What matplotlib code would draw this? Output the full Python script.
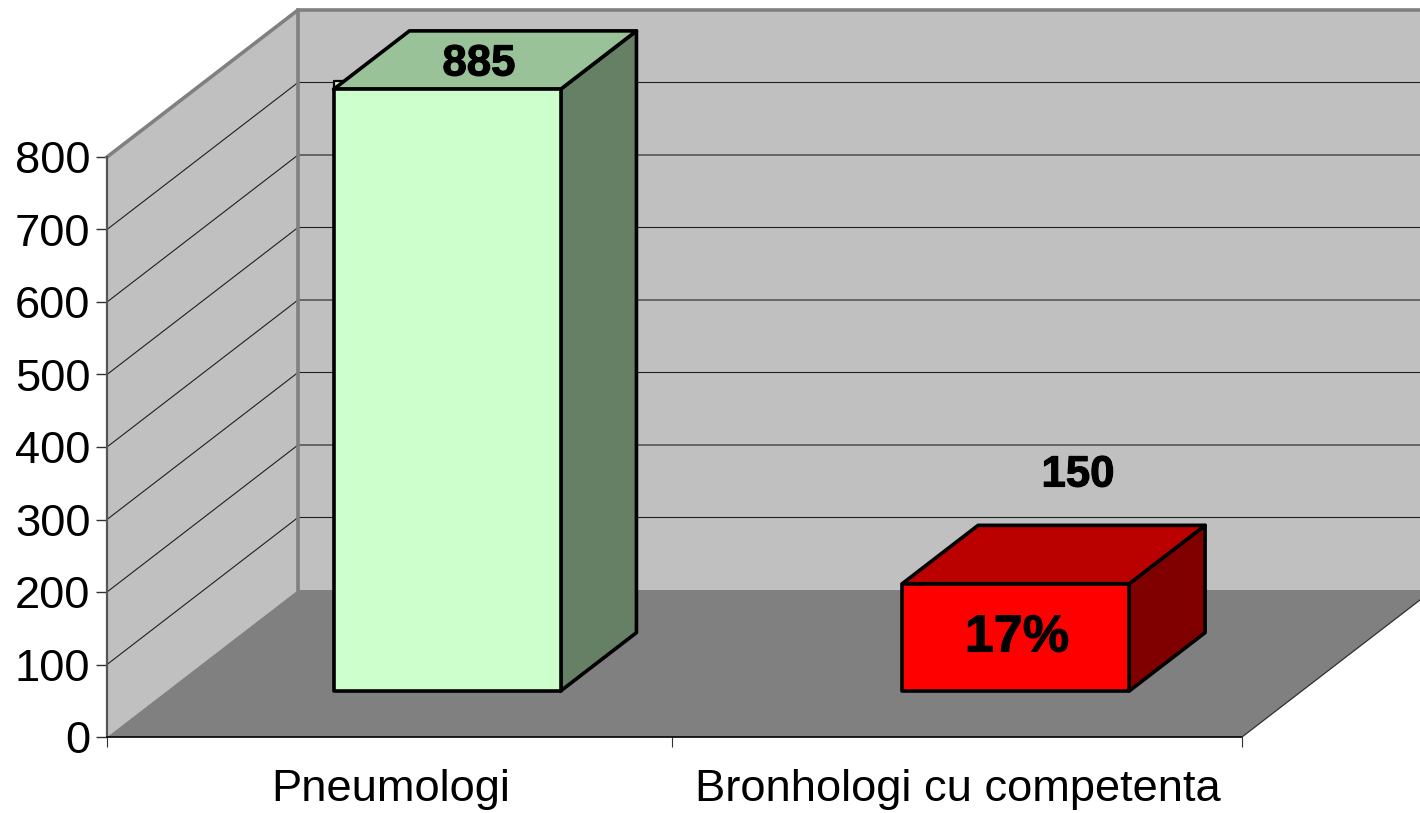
import matplotlib
matplotlib.use("Agg")
import matplotlib.pyplot as plt
import matplotlib.patheffects as pe
from matplotlib.patches import Polygon

plt.rcParams['font.family'] = ['Liberation Sans', 'DejaVu Sans']

# === Data ===
categories = ["Pneumologi", "Bronhologi cu competenta"]
bar_labels = ["885", "150"]
bar_heights = [830, 148]  # first bar is cut off by the chart, 885 does not fit
y_ticks = [0, 100, 200, 300, 400, 500, 600, 700, 800]

# === Layout (pixels of the 1420x813 picture) ===
W, H = 1420, 813
X0, Y0 = 107, 737
CAT_PX = 567.5
VAL_PX = 0.725
DX = 191 / CAT_PX    # full depth of the floor, in category units
DY = 147 / VAL_PX    # same, in value units
BAR_D0, BAR_D1 = 0.313, 0.71
BAR_W = 0.2
BAR_SHIFT = [-0.006, -0.004]

front_cols = ["#CCFFCC", "#FF0000"]
top_cols = ["#99C299", "#BB0000"]
side_cols = ["#668066", "#800000"]


def proj(x, v, d=0.0):
    return (x + d * DX, v + d * DY)


def from_px(px, py):
    return ((px - X0) / CAT_PX, (Y0 - py) / VAL_PX)


fig = plt.figure(figsize=(W / 100, H / 100), dpi=100, facecolor="white")
ax = fig.add_axes([X0 / W, (H - Y0) / H, (W - X0) / W, Y0 / H])
ax.set_xlim(0, (W - X0) / CAT_PX)
ax.set_ylim(0, Y0 / VAL_PX)
ax.patch.set_visible(False)
for s in ax.spines.values():
    s.set_visible(False)

n = len(categories)
top = y_ticks[-1]

# walls and floor
ax.add_patch(Polygon([proj(0, 0, 1), proj(n, 0, 1), proj(n, top, 1), proj(0, top, 1)],
                     fc="#C0C0C0", ec="none", zorder=1))
ax.add_patch(Polygon([proj(0, 0, 0), proj(0, 0, 1), proj(0, top, 1), proj(0, top, 0)],
                     fc="#C0C0C0", ec="none", zorder=1))
ax.add_patch(Polygon([proj(0, 0, 0), proj(n, 0, 0), proj(n, 0, 1), proj(0, 0, 1)],
                     fc="#808080", ec="none", zorder=2))

# gridlines
for v in y_ticks[1:-1]:
    a, b, c = proj(0, v, 0), proj(0, v, 1), proj(n, v, 1)
    ax.plot([a[0], b[0], c[0]], [a[1], b[1], c[1]], color="#202020", lw=0.8, zorder=1.5)

# wall edges
a, b, c = proj(0, top, 0), proj(0, top, 1), proj(n, top, 1)
ax.plot([a[0], b[0], c[0]], [a[1], b[1], c[1]], color="#808080", lw=2.6, zorder=1.6, clip_on=False)
a, b = proj(0, 0, 1), proj(0, top, 1)
ax.plot([a[0], b[0]], [a[1], b[1]], color="#808080", lw=2.6, zorder=1.6)
ax.plot([0, 0], [0, top], color="#555555", lw=1.6, zorder=3, clip_on=False)

# floor edges
ax.plot([0, n], [0, 0], color="black", lw=1.2, zorder=3, clip_on=False)
a, b = proj(n, 0, 0), proj(n, 0, 1)
ax.plot([a[0], b[0]], [a[1], b[1]], color="#303030", lw=0.9, zorder=3)

# bars
for i, h in enumerate(bar_heights):
    left = i + 0.5 - BAR_W + BAR_SHIFT[i]
    right = i + 0.5 + BAR_W + BAR_SHIFT[i]
    style = dict(ec="black", lw=2.6, joinstyle="round", zorder=5)
    ax.add_patch(Polygon([proj(right, 0, BAR_D0), proj(right, 0, BAR_D1),
                          proj(right, h, BAR_D1), proj(right, h, BAR_D0)],
                         fc=side_cols[i], **style))
    ax.add_patch(Polygon([proj(left, h, BAR_D0), proj(right, h, BAR_D0),
                          proj(right, h, BAR_D1), proj(left, h, BAR_D1)],
                         fc=top_cols[i], **style))
    ax.add_patch(Polygon([proj(left, 0, BAR_D0), proj(right, 0, BAR_D0),
                          proj(right, h, BAR_D0), proj(left, h, BAR_D0)],
                         fc=front_cols[i], **style))

# the little corner sticking out at the top left of the cut off bar
left = 0.5 - BAR_W + BAR_SHIFT[0]
h = bar_heights[0]
p = proj(left, h, BAR_D0)
ax.add_patch(Polygon([p, (p[0], p[1] + 12), (p[0] + 0.02, p[1] + 12)],
                     fc=front_cols[0], ec="black", lw=1.6, joinstyle="round", zorder=4.5))

# axis ticks and labels
ax.set_yticks(y_ticks)
ax.set_yticklabels([str(v) for v in y_ticks])
ax.tick_params(axis="y", length=8, width=1, color="#303030", pad=4, labelsize=32.6)
ax.set_xticks([0, 0.995, 2])
ax.set_xticklabels([""] * (n + 1))
ax.tick_params(axis="x", length=7.5, width=0.8, color="#303030")
ax.set_xticks([i + 0.5 for i in range(n)], minor=True)
ax.set_xticklabels(categories, minor=True)
ax.tick_params(axis="x", which="minor", length=0, pad=23, labelsize=32.6)

# value labels
bold = dict(fontsize=31.5, fontweight="bold", ha="center", va="center", color="black", zorder=8,
            path_effects=[pe.withStroke(linewidth=0.8, foreground="black")])
ax.text(*from_px(479, 64), bar_labels[0], **bold)
ax.text(*from_px(1078, 475), bar_labels[1], **bold)
ax.text(*from_px(1017, 638), "17%", **{**bold, "fontsize": 37.5})

fig.savefig("out.png", dpi=100)
